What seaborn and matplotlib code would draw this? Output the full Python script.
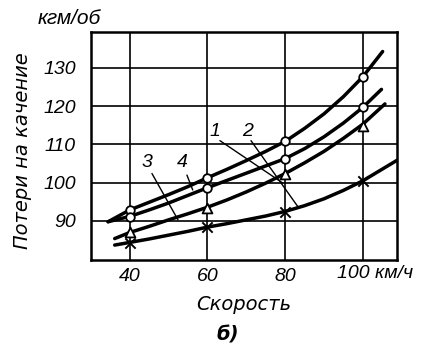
import matplotlib
matplotlib.use("Agg")
import matplotlib.pyplot as plt
import matplotlib.transforms as mtransforms
import seaborn as sns
import pandas as pd

# ---- data ----
curve1_x = [34.4, 40, 45, 50, 55, 60, 65, 70, 75, 80, 85, 90, 95, 100, 105.1]
curve1_y = [89.8, 92.9, 94.9, 96.9, 99.0, 101.3, 103.5, 105.8, 108.2, 110.8, 114.2, 118.0, 122.5, 127.7, 134.3]
curve2_x = [34.4, 40, 45, 50, 55, 60, 65, 70, 75, 80, 85, 90, 95, 100, 104.8]
curve2_y = [89.8, 91.2, 92.9, 94.7, 96.7, 98.7, 100.6, 102.5, 104.4, 106.3, 108.9, 112.0, 115.6, 119.7, 124.4]
curve3_x = [36.1, 40, 45, 50, 55, 60, 65, 70, 75, 80, 85, 90, 95, 100, 105.7]
curve3_y = [85.4, 87.0, 88.6, 90.3, 91.9, 93.6, 95.5, 97.6, 99.9, 102.4, 105.2, 108.2, 111.6, 115.3, 120.6]
curve4_x = [36.1, 40, 45, 50, 55, 60, 65, 70, 75, 80, 85, 90, 95, 100, 108.7]
curve4_y = [83.7, 84.4, 85.3, 86.3, 87.3, 88.4, 89.3, 90.3, 91.3, 92.5, 94.0, 95.8, 98.0, 100.5, 105.8]

marker_speeds = [40, 60, 80, 100]
marks1 = [92.9, 101.3, 110.8, 127.7]
marks2 = [91.0, 98.7, 106.3, 119.7]
marks3 = [87.0, 93.4, 102.4, 114.8]
marks4 = [84.3, 88.4, 92.3, 100.5]

x_ticks = [40, 60, 80, 100]
x_tick_labels = ["40", "60", "80", ""]
y_ticks = [90, 100, 110, 120, 130]
y_tick_labels = ["90", "100", "110", "120", "130"]

curve_names = ["1", "2", "3", "4"]
label_pos = [(61.9, 113.3), (70.4, 113.3), (44.4, 105.4), (53.4, 105.4)]
leader_lines = [((63.2, 111.0), (79.4, 99.9)),
                ((71.2, 111.0), (83.3, 93.7)),
                ((45.7, 102.4), (52.4, 90.3)),
                ((54.7, 102.0), (56.2, 98.1))]

# ---- styling ----
sns.set_style("white")
plt.rcParams["font.family"] = ["Liberation Sans Narrow", "Liberation Sans", "DejaVu Sans"]
plt.rcParams["font.style"] = "italic"
plt.rcParams["text.color"] = "black"
plt.rcParams["xtick.color"] = "black"
plt.rcParams["ytick.color"] = "black"

fig = plt.figure(figsize=(4.23, 3.45), dpi=100)
ax = fig.add_axes([91 / 423, 1 - 260 / 345, (397 - 91) / 423, (260 - 32) / 345])

curves = pd.concat([
    pd.DataFrame({"v": curve1_x, "p": curve1_y, "c": "1"}),
    pd.DataFrame({"v": curve2_x, "p": curve2_y, "c": "2"}),
    pd.DataFrame({"v": curve3_x, "p": curve3_y, "c": "3"}),
    pd.DataFrame({"v": curve4_x, "p": curve4_y, "c": "4"}),
])
sns.lineplot(data=curves, x="v", y="p", units="c", estimator=None, sort=False,
             color="black", lw=2.5, ax=ax, zorder=3)

open_pts = pd.DataFrame({"v": marker_speeds * 2, "p": marks1 + marks2})
sns.scatterplot(data=open_pts, x="v", y="p", marker="o", s=38, facecolor="white",
                edgecolor="black", linewidth=1.3, ax=ax, zorder=5)
tri_pts = pd.DataFrame({"v": marker_speeds, "p": marks3})
sns.scatterplot(data=tri_pts, x="v", y="p", marker="^", s=50, facecolor="white",
                edgecolor="black", linewidth=1.3, ax=ax, zorder=5)
x_pts = pd.DataFrame({"v": marker_speeds, "p": marks4})
sns.scatterplot(data=x_pts, x="v", y="p", marker="x", s=55, color="black",
                linewidth=1.4, ax=ax, zorder=5)

for name, (lx, ly), ((x0, y0), (x1, y1)) in zip(curve_names, label_pos, leader_lines):
    ax.text(lx, ly, name, fontsize=14, ha="center", va="center", color="black")
    ax.plot([x0, x1], [y0, y1], color="black", lw=1.0, zorder=4)

ax.set_xlim(30, 108.8)
ax.set_ylim(79.8, 139.4)
ax.set_xticks(x_ticks)
ax.set_xticklabels(x_tick_labels)
ax.set_yticks(y_ticks)
ax.set_yticklabels(y_tick_labels)
ax.tick_params(axis="both", length=0, labelsize=14, colors="black")
ax.tick_params(axis="x", pad=6)
ax.tick_params(axis="y", pad=11)
ax.grid(True, color="black", lw=1.2)
ax.set_axisbelow(True)
for s in ax.spines.values():
    s.set_visible(True)
    s.set_color("black")
    s.set_linewidth(1.8)
ax.set_xlabel("")
ax.set_ylabel("")

trans = mtransforms.blended_transform_factory(ax.transData, fig.transFigure)
ax.text(93.3, 1 - 274 / 345, "100 км/ч", transform=trans, fontsize=14,
        ha="left", va="center", clip_on=False, color="black")

fig.text(69 / 423, 1 - 19 / 345, "кгм/об", fontsize=15, ha="center", va="center",
         family=["Liberation Sans", "DejaVu Sans"], color="black")
fig.text(22 / 423, 1 - 151 / 345, "Потери на качение", fontsize=14, rotation=90,
         ha="center", va="center", family=["DejaVu Sans"], color="black")
fig.text(244 / 423, 1 - 305 / 345, "Скорость", fontsize=14, ha="center", va="center",
         family=["DejaVu Sans"], color="black")
fig.text(228 / 423, 1 - 335 / 345, "б)", fontsize=14, ha="center", va="center",
         weight="bold", family=["DejaVu Sans"], color="black")

fig.savefig("out.png", dpi=100)
